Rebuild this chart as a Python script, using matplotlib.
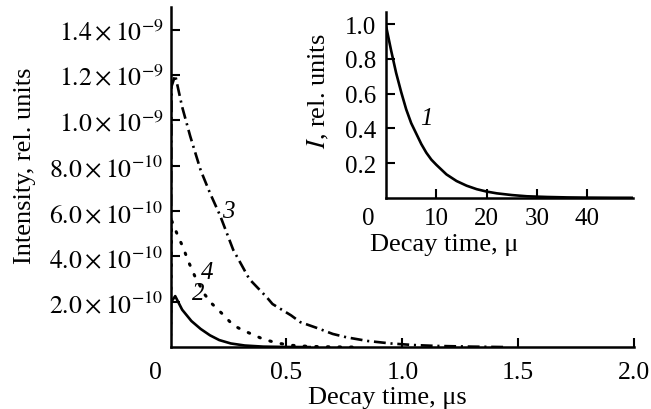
import matplotlib
matplotlib.use('Agg')
import matplotlib.pyplot as plt

plt.rcParams['font.family'] = 'Liberation Serif'
plt.rcParams['mathtext.fontset'] = 'stix'

# main panel: decay curves 2, 3, 4 (time in us, intensity in 1e-9 rel. units)
SCALE = 1e-9
t2 = [0, 0.003, 0.02, 0.05, 0.09, 0.13, 0.17, 0.21, 0.26, 0.32, 0.40, 0.50, 0.60]
i2 = [0, 0.20, 0.225, 0.165, 0.115, 0.08, 0.052, 0.031, 0.016, 0.007, 0.002, 0.0005, 0]

t3 = [0, 0.004, 0.02, 0.05, 0.085, 0.13, 0.17, 0.214, 0.27, 0.34, 0.415, 0.44,
      0.52, 0.56, 0.63, 0.70, 0.76, 0.85, 0.95, 1.05, 1.15, 1.30, 1.45]
i3 = [0, 1.15, 1.20, 1.06, 0.93, 0.78, 0.68, 0.58, 0.43, 0.30, 0.22, 0.19,
      0.14, 0.11, 0.085, 0.058, 0.043, 0.027, 0.016, 0.009, 0.005, 0.002, 0]

t4 = [0, 0.004, 0.032, 0.054, 0.076, 0.106, 0.149, 0.18, 0.22, 0.27, 0.31,
      0.36, 0.40, 0.46, 0.52, 0.60, 0.70, 0.80]
i4 = [0, 0.56, 0.49, 0.44, 0.38, 0.31, 0.23, 0.19, 0.15, 0.097, 0.075,
      0.053, 0.035, 0.018, 0.008, 0.003, 0.001, 0]

yticks_main = [0.2e-9, 0.4e-9, 0.6e-9, 0.8e-9, 1.0e-9, 1.2e-9, 1.4e-9]
ylabels_main = [r'$2.0\times10^{-10}$', r'$4.0\times10^{-10}$', r'$6.0\times10^{-10}$',
                r'$8.0\times10^{-10}$', r'$1.0\times10^{-9}$', r'$1.2\times10^{-9}$',
                r'$1.4\times10^{-9}$']
xticks_main = [0.5, 1.0, 1.5, 2.0]
xlabels_main = ['0.5', '1.0', '1.5', '2.0']

# inset: curve 1 (time in us, normalised intensity)
t1 = [0, 1, 2, 3, 4, 5, 6, 7, 8, 9, 10, 12, 14, 16, 18, 20, 22, 25, 28, 32, 36, 40, 45, 49]
i1 = [0.99, 0.85, 0.72, 0.61, 0.51, 0.43, 0.37, 0.31, 0.26, 0.22, 0.19, 0.135, 0.097,
      0.07, 0.05, 0.036, 0.026, 0.016, 0.009, 0.005, 0.0025, 0.0013, 0.0005, 0.0003]
yticks_in = [0.2, 0.4, 0.6, 0.8, 1.0]
ylabels_in = ['0.2', '0.4', '0.6', '0.8', '1.0']
xticks_in = [10, 20, 30, 40]


def style_axes(ax, xpad, ypad, size):
    ax.spines['top'].set_visible(False)
    ax.spines['right'].set_visible(False)
    for s in ['left', 'bottom']:
        ax.spines[s].set_linewidth(1.8)
    ax.tick_params(direction='in', length=6.5, width=1.5, labelsize=size)
    ax.tick_params(axis='x', pad=xpad)
    ax.tick_params(axis='y', pad=ypad)


def main():
    fig = plt.figure(figsize=(6.51, 4.10), dpi=100)

    ax = fig.add_axes([0.262, 0.151, 0.712, 0.829])
    ax.plot(t2, [v * SCALE for v in i2], color='black', lw=1.9)
    ax.plot(t3, [v * SCALE for v in i3], color='black', lw=1.9,
            linestyle=(0, (4.5, 1.8, 0.8, 1.8)))
    ax.plot(t4, [v * SCALE for v in i4], color='black', lw=2.2,
            linestyle=(0, (0.5, 3.3)), dash_capstyle='round')
    ax.set_xlim(0, 2.0)
    ax.set_ylim(0, 1.5e-9)
    ax.set_xticks(xticks_main)
    ax.set_xticklabels(xlabels_main)
    ax.set_yticks(yticks_main)
    ax.set_yticklabels(ylabels_main)
    style_axes(ax, 10, 5, 18.5)
    ax.annotate('0', xy=(0, 0), xycoords='axes fraction', xytext=(-15, -14),
                textcoords='offset pixels', ha='center', va='top', fontsize=18.5)
    ax.set_xlabel('Decay time, μs', fontsize=19)
    ax.xaxis.set_label_coords(0.467, -0.115)
    ax.set_ylabel('Intensity, rel. units', fontsize=19)
    ax.yaxis.set_label_coords(-0.29, 0.535)

    ax.text(0.25, 0.6e-9, '3', style='italic', fontsize=18, ha='center', va='center')
    ax.text(0.16, 0.33e-9, '4', style='italic', fontsize=18, ha='center', va='center')
    ax.text(0.12, 0.24e-9, '2', style='italic', fontsize=18, ha='center', va='center')

    axin = fig.add_axes([0.593, 0.515, 0.379, 0.453])
    axin.plot(t1, i1, color='black', lw=1.9)
    axin.set_xlim(0, 49)
    axin.set_ylim(0, 1.07)
    axin.set_xticks(xticks_in)
    axin.set_yticks(yticks_in)
    axin.set_yticklabels(ylabels_in)
    style_axes(axin, 6.5, 7, 18)
    axin.annotate('0', xy=(0, 0), xycoords='axes fraction', xytext=(-18, -9),
                  textcoords='offset pixels', ha='center', va='top', fontsize=18)
    axin.set_xlabel('Decay time, μ', fontsize=19)
    axin.xaxis.set_label_coords(0.235, -0.19)
    axin.set_ylabel(r'$I$, rel. units', fontsize=19)
    axin.yaxis.set_label_coords(-0.225, 0.58)
    axin.text(8, 0.46, '1', style='italic', fontsize=18, ha='center', va='center')

    fig.savefig('out.png', dpi=100)


if __name__ == "__main__":
    main()
